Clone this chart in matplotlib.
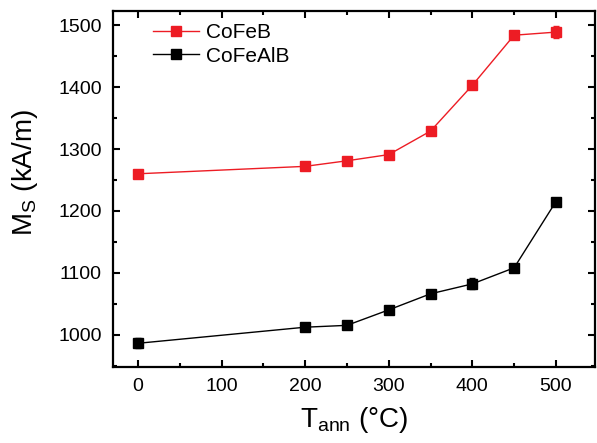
import matplotlib
matplotlib.use("Agg")
import matplotlib.pyplot as plt
from matplotlib.ticker import MultipleLocator

plt.rcParams['font.family'] = ['Liberation Sans', 'DejaVu Sans']
plt.rcParams['mathtext.fontset'] = 'custom'
plt.rcParams['mathtext.rm'] = 'Liberation Sans'

temps = [0, 200, 250, 300, 350, 400, 450, 500]
cofeb = [1260, 1272, 1281, 1291, 1329, 1403, 1484, 1489]
cofeb_err = [3, 3, 3, 3, 3, 3, 3, 10]
cofealb = [986, 1012, 1015, 1040, 1066, 1082, 1108, 1215]
cofealb_err = [8, 3, 3, 3, 3, 9, 3, 3]

fig = plt.figure(figsize=(5.97, 4.43), dpi=100)
ax = fig.add_axes([0.189, 0.172, 0.808, 0.803])

red = '#ED1C24'
ax.errorbar(temps, cofeb, yerr=cofeb_err, fmt='none', ecolor=red, capsize=2, elinewidth=0.8)
ax.errorbar(temps, cofealb, yerr=cofealb_err, fmt='none', ecolor='black', capsize=2, elinewidth=0.8)
ax.plot(temps, cofeb, color=red, marker='s', ms=6.5, lw=1, label='CoFeB')
ax.plot(temps, cofealb, color='black', marker='s', ms=6.5, lw=1, label='CoFeAlB')

ax.set_xlim(-30, 547)
ax.set_ylim(948, 1523)
ax.xaxis.set_major_locator(MultipleLocator(100))
ax.xaxis.set_minor_locator(MultipleLocator(50))
ax.yaxis.set_major_locator(MultipleLocator(100))
ax.yaxis.set_minor_locator(MultipleLocator(50))
ax.tick_params(which='both', direction='in', top=True, right=True, width=1.5, labelsize=14)
ax.tick_params(which='major', length=5, pad=8)
ax.tick_params(which='minor', length=3)
for s in ax.spines.values():
    s.set_linewidth(1.6)

ax.set_xlabel(r'$\mathregular{T_{ann}}$ (°C)', fontsize=20, labelpad=7)
ax.set_ylabel(r'$\mathregular{M_S}$ (kA/m)', fontsize=20)
ax.yaxis.set_label_coords(-0.15, 0.545)

ax.legend(loc='upper left', bbox_to_anchor=(0.083, 0.967), frameon=False, fontsize=15,
          borderpad=0, borderaxespad=0, handlelength=2.2, handletextpad=0.35,
          labelspacing=0.23)

fig.savefig('out.png', dpi=100)
